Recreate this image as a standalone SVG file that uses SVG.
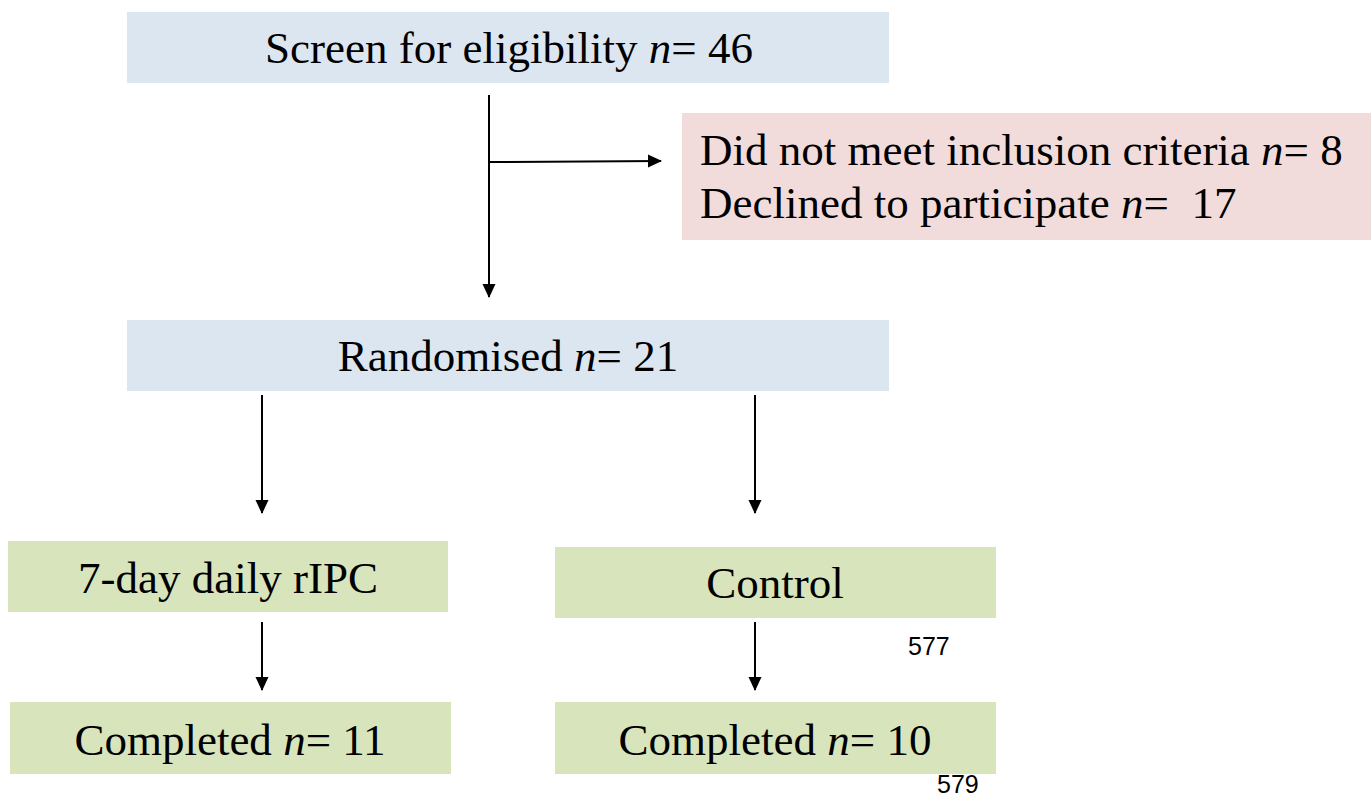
<svg xmlns="http://www.w3.org/2000/svg" width="1371" height="796" viewBox="0 0 1371 796">
  <style>
    .lbl { font-family: "Liberation Serif", "Times New Roman", serif; font-size: 45px; fill: #000; }
    .it { font-style: italic; }
    .blue { fill: #dce6f1; }
    .pink { fill: #f2dcdb; }
    .green { fill: #d8e4bc; }
    .conn { stroke: #000; stroke-width: 2; fill: none; }
    .pg { font-family: "Liberation Sans", Arial, sans-serif; font-size: 25px; fill: #000; }
  </style>
  <defs>
    <marker id="arrow" markerWidth="14" markerHeight="14" refX="13" refY="7" orient="auto" markerUnits="userSpaceOnUse">
      <path d="M0,0.5 L14,7 L0,13.5 Z" fill="#000"/>
    </marker>
  </defs>
  <rect width="1371" height="796" fill="#fff"/>

  <g id="screen">
    <rect class="blue" x="127" y="12" width="762" height="71"/>
    <text class="lbl" x="509" y="63" text-anchor="middle">Screen for eligibility <tspan class="it">n</tspan>= 46</text>
  </g>

  <g id="excluded">
    <rect class="pink" x="682" y="113" width="689" height="127"/>
    <text class="lbl" x="700" y="165">Did not meet inclusion criteria <tspan class="it">n</tspan>= 8</text>
    <text class="lbl" x="700" y="218" xml:space="preserve">Declined to participate <tspan class="it">n</tspan>=  17</text>
  </g>

  <g id="randomised">
    <rect class="blue" x="127" y="320" width="762" height="71"/>
    <text class="lbl" x="508" y="371" text-anchor="middle">Randomised <tspan class="it">n</tspan>= 21</text>
  </g>

  <g id="ripc">
    <rect class="green" x="8" y="541" width="440" height="71"/>
    <text class="lbl" x="228" y="593" text-anchor="middle">7-day daily rIPC</text>
  </g>

  <g id="control">
    <rect class="green" x="555" y="547" width="441" height="71"/>
    <text class="lbl" x="775" y="598" text-anchor="middle">Control</text>
  </g>

  <g id="completed-ripc">
    <rect class="green" x="10" y="702" width="441" height="72"/>
    <text class="lbl" x="230" y="755" text-anchor="middle">Completed <tspan class="it">n</tspan>= 11</text>
  </g>

  <g id="completed-control">
    <rect class="green" x="555" y="702" width="441" height="72"/>
    <text class="lbl" x="775" y="755" text-anchor="middle">Completed <tspan class="it">n</tspan>= 10</text>
  </g>

  <g id="connectors">
    <line class="conn" x1="489" y1="95" x2="489" y2="297" marker-end="url(#arrow)"/>
    <line class="conn" x1="489" y1="162" x2="661" y2="161" marker-end="url(#arrow)"/>
    <line class="conn" x1="262" y1="395" x2="262" y2="513" marker-end="url(#arrow)"/>
    <line class="conn" x1="755" y1="395" x2="755" y2="513" marker-end="url(#arrow)"/>
    <line class="conn" x1="262" y1="622" x2="262" y2="690" marker-end="url(#arrow)"/>
    <line class="conn" x1="755" y1="622" x2="755" y2="690" marker-end="url(#arrow)"/>
  </g>

  <g id="page-numbers">
    <text class="pg" x="908" y="655">577</text>
    <text class="pg" x="937" y="793">579</text>
  </g>
</svg>
